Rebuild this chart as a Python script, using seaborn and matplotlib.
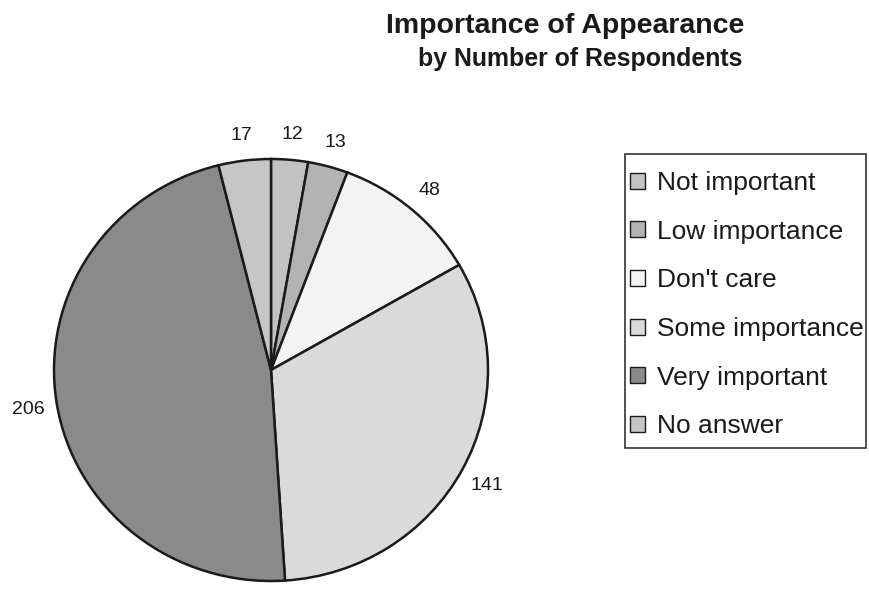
import matplotlib
matplotlib.use("Agg")
import matplotlib.pyplot as plt
from matplotlib.patches import Rectangle
from matplotlib.transforms import offset_copy
import numpy as np
import seaborn as sns

# Survey responses, in the order the slices are drawn (clockwise from 12 o'clock)
categories = ["Not important", "Low importance", "Don't care",
              "Some importance", "Very important", "No answer"]
respondents = [12, 13, 48, 141, 206, 17]
shades = ["#c2c2c2", "#b3b3b3", "#f3f3f3", "#dadada", "#8a8a8a", "#c6c6c6"]

sns.set_theme(style="white")
plt.rcParams["font.family"] = ["Liberation Sans", "DejaVu Sans"]

W, H = 869, 592
fig = plt.figure(figsize=(W / 100, H / 100), dpi=100)
fig.patch.set_facecolor("white")

# Pie axes: centre (271, 370) px, radii 217 x 211 px
cx, cy, rx, ry = 271, 370, 217, 211
ax = fig.add_axes([(cx - rx) / W, (H - cy - ry) / H, 2 * rx / W, 2 * ry / H])
ax.set_axis_off()

palette = sns.color_palette(shades)
wedges, _ = ax.pie(respondents, colors=palette, startangle=90, counterclock=False,
                   radius=1.0, normalize=True,
                   wedgeprops=dict(edgecolor="#1a1a1a", linewidth=1.8))
ax.set_aspect("auto")
ax.set_xlim(-1, 1)
ax.set_ylim(-1, 1)

# value labels just outside each slice; baseline dropped so the digits sit centred
label_tf = offset_copy(ax.transData, fig=fig, x=0, y=-7, units="dots")
for w, v in zip(wedges, respondents):
    ang = np.deg2rad((w.theta1 + w.theta2) / 2)
    d = 1.13
    ax.text(d * np.cos(ang), d * np.sin(ang), f"{v}", ha="center", va="baseline",
            fontsize=14, color="#1a1a1a", transform=label_tf)

# titles
fig.text(565 / W, 1 - 33 / H, "Importance of Appearance", ha="center",
         va="baseline", fontsize=20.5, fontweight="bold", color="#1a1a1a")
fig.text(580 / W, 1 - 66 / H, "by Number of Respondents", ha="center",
         va="baseline", fontsize=17.9, fontweight="bold", color="#1a1a1a")

# legend box
fig.patches.append(Rectangle((625 / W, 1 - 448 / H), (866 - 625) / W, (448 - 154) / H,
                             transform=fig.transFigure, facecolor="none",
                             edgecolor="#333333", linewidth=1.2))

leg = fig.legend(wedges, categories, loc="upper left",
                 bbox_to_anchor=(630 / W, 1 - 171 / H),
                 fontsize=19, frameon=False,
                 handlelength=0.55, handleheight=0.55, handletextpad=0.48,
                 labelspacing=0.935, borderpad=0.0, borderaxespad=0.0)
for h in leg.legend_handles:
    h.set_edgecolor("#1a1a1a")
    h.set_linewidth(1.0)
for t in leg.get_texts():
    t.set_color("#1a1a1a")

fig.savefig("out.png", dpi=100, facecolor="white")
